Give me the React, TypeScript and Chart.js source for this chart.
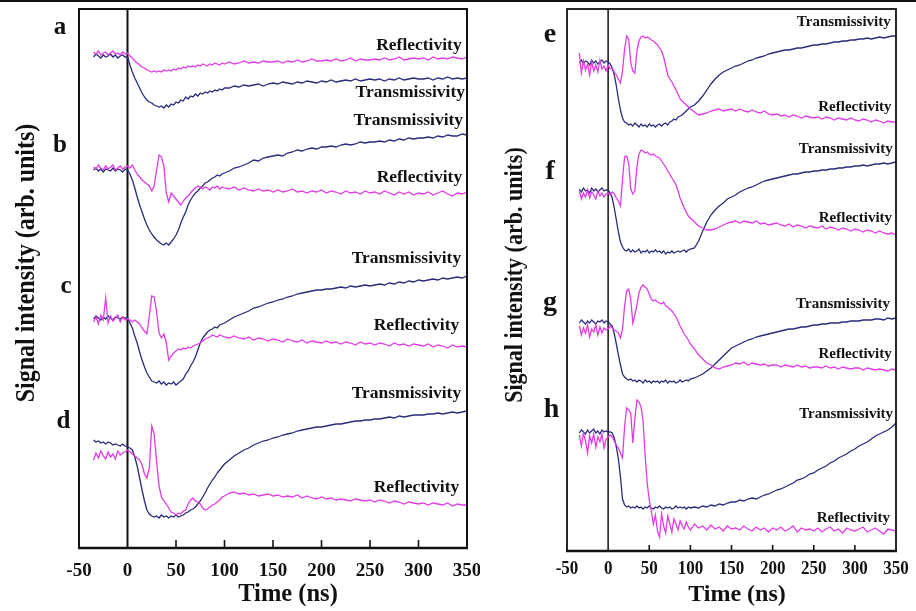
import React, { useEffect, useRef } from "react";
import { Chart, registerables } from "chart.js";
Chart.register(...registerables);

// Time axis (ns)
const T = [
  -35, -32.5, -30, -27.5, -25, -22.5, -20, -17.5, -15, -12.5, -10, -7.5, -5, -2.5,
  0, 2.5, 5, 7.5, 10, 12.5, 15, 17.5, 20, 22.5, 25, 27.5,
  30, 32.5, 35, 37.5, 40, 42.5, 45, 47.5, 50, 52.5, 55, 57.5,
  60, 62.5, 65, 67.5, 70, 72.5, 75, 77.5, 80, 82.5, 85, 87.5,
  90, 92.5, 95, 97.5, 100,
  105, 110, 115, 120, 125, 130, 135, 140, 145, 150,
  155, 160, 165, 170, 175, 180, 185, 190, 195, 200,
  205, 210, 215, 220, 225, 230, 235, 240, 245, 250,
  255, 260, 265, 270, 275, 280, 285, 290, 295, 300,
  305, 310, 315, 320, 325, 330, 335, 340, 345, 350,
];

const X_TICK_LABELS = [-50, 0, 50, 100, 150, 200, 250, 300, 350];
const X_INNER_TICKS = [50, 100, 150, 200, 250, 300];

// ---- Left panel (a-d), signal intensity, arb. units (offset traces) ----
const aR = [
  496, 494, 497, 493, 495, 496, 493, 495, 497, 494, 495, 493, 496, 494,
  495, 492, 490, 487, 485, 483, 481, 480, 478, 477, 476, 477,
  476, 477, 476, 478, 477, 478, 477, 479, 478, 480, 479, 481,
  480, 482, 481, 482, 481, 483, 482, 484, 483, 482, 484, 483,
  485, 484, 483, 485, 484,
  486, 484, 485, 487, 485, 486, 485, 487, 486, 486,
  487, 485, 487, 486, 488, 486, 487, 489, 487, 487,
  488, 487, 489, 487, 488, 490, 487, 489, 488, 488,
  489, 488, 490, 488, 489, 491, 488, 489, 490, 489,
  490, 488, 491, 489, 490, 489, 491, 490, 489, 491,
];
const aT = [
  491, 494, 492, 490, 493, 491, 492, 494, 491, 493, 490, 492, 493, 491,
  491, 483, 476, 470, 465, 460, 455, 451, 448, 446, 445, 443,
  442, 441, 442, 440, 443, 441, 444, 443, 446, 445, 448, 447,
  451, 449, 452, 451, 454, 452, 455, 454, 456, 455, 457, 456,
  458, 457, 459, 458, 460,
  460, 462, 461, 463, 462, 463, 464, 462, 464, 465,
  464, 466, 465, 464, 466, 465, 467, 466, 465, 467,
  466, 468, 466, 467, 468, 467, 469, 467, 468, 469,
  468, 469, 467, 469, 468, 470, 468, 469, 470, 469,
  469, 470, 468, 470, 469, 471, 469, 470, 469, 470,
];
const bR = [
  381, 379, 383, 380, 378, 382, 379, 381, 383, 378, 380, 382, 379, 381,
  382, 380, 383, 378, 374, 371, 368, 366, 364, 362, 357, 362,
  378, 393, 391, 382, 355, 346, 355, 352, 349, 346, 343, 347,
  350, 352, 355, 358, 360, 362, 361, 359, 361, 360, 358, 361,
  360, 362, 359, 361, 360,
  359, 361, 358, 360, 358, 357, 359, 357, 358, 356,
  358, 356, 357, 359, 356, 357, 355, 357, 356, 358,
  355, 357, 356, 354, 357, 355, 356, 354, 357, 355,
  356, 354, 357, 355, 353, 356, 354, 356, 353, 355,
  354, 356, 353, 355, 357, 354, 352, 355, 354, 356,
];
const bT = [
  378, 380, 377, 379, 376, 379, 378, 377, 380, 377, 379, 378, 376, 379,
  378, 374, 368, 360, 351, 343, 336, 329, 323, 318, 314, 311,
  308, 306, 304, 303, 305, 303, 306, 309, 313, 318, 325, 331,
  336, 343, 348, 352, 355, 357, 360, 362, 365, 366, 368, 370,
  371, 373, 372, 374, 375,
  377, 380, 381, 383, 385, 388, 387, 390, 391, 392,
  393, 392, 395, 396, 398, 397, 399, 400, 399, 401,
  401, 402, 401, 403, 404, 403, 404, 406, 405, 406,
  406, 407, 406, 408, 407, 409, 408, 410, 409, 410,
  410, 411, 410, 412, 411, 413, 412, 412, 414, 413,
];
const cR = [
  226, 231, 224, 233, 228, 250, 225, 232, 227, 230, 233, 226, 231, 228,
  229, 228, 226, 228, 226, 224, 220, 217, 214, 232, 252, 251,
  236, 215, 210, 214, 205, 188, 192, 195, 197, 199, 198, 200,
  199, 201, 200, 202, 203, 204, 205, 207, 209, 210, 211, 213,
  212, 211, 213, 212, 211,
  210, 212, 210, 209, 211, 208, 210, 209, 207, 209,
  208, 206, 209, 207, 206, 208, 205, 207, 206, 205,
  207, 205, 206, 204, 206, 205, 203, 206, 204, 205,
  203, 205, 204, 202, 205, 203, 204, 202, 204, 203,
  202, 204, 201, 203, 202, 200, 203, 201, 202, 201,
];
const cT = [
  229, 232, 230, 228, 231, 229, 232, 230, 228, 231, 230, 229, 231, 230,
  230, 225, 220, 212, 205, 196, 188, 181, 175, 171, 167, 166,
  165, 167, 164, 166, 163, 165, 164, 166, 163, 165, 167, 169,
  174, 177, 182, 186, 191, 198, 205, 210, 213, 216, 218, 219,
  221, 220, 223, 224, 225,
  228, 231, 233, 235, 237, 240, 241, 243, 245, 246,
  248, 249, 251, 252, 254, 255, 256, 257, 258, 258,
  259, 259, 260, 261, 260, 262, 261, 262, 263, 262,
  263, 264, 263, 265, 264, 266, 265, 267, 266, 268,
  267, 268, 269, 268, 270, 269, 270, 271, 270, 272,
];
const dR = [
  88, 95, 90, 97, 92, 89, 96, 91, 94, 89, 97, 93, 95, 96,
  98, 96, 94, 92, 90, 88, 83, 74, 70, 80, 122, 114,
  86, 62, 51, 47, 44, 40, 36, 35, 33, 35, 34, 37,
  38, 44, 48, 50, 47, 46, 44, 40, 38, 39, 41, 43,
  44, 46, 48, 51, 52,
  55, 56, 54, 55, 53, 54, 52, 53, 54, 52,
  53, 51, 52, 51, 53, 50, 52, 50, 49, 51,
  49, 50, 48, 49, 48, 47, 49, 48, 47, 48,
  46, 48, 47, 45, 47, 46, 44, 46, 45, 44,
  45, 43, 45, 44, 43, 45, 42, 44, 43, 43,
];
const dT = [
  108, 106, 107, 105, 106, 104, 106, 105, 103, 104, 103, 102, 104, 102,
  101, 100, 98, 91, 82, 70, 58, 47, 38, 34, 32, 31,
  32, 30, 33, 31, 32, 30, 32, 31, 33, 31, 32, 33,
  35, 36, 38, 39, 41, 44, 47, 51, 55, 60, 64, 68,
  71, 75, 78, 81, 84,
  88, 92, 95, 98, 100, 103, 105, 107, 108, 110,
  111, 113, 114, 115, 117, 118, 119, 120, 121, 121,
  122, 123, 124, 124, 125, 126, 127, 127, 128, 128,
  129, 129, 130, 131, 130, 132, 131, 132, 133, 133,
  133, 134, 134, 135, 134, 135, 136, 135, 136, 137,
];

// ---- Right panel (e-h) ----
const eR = [
  498, 478, 490, 481, 487, 476, 489, 480, 486, 479, 491, 482, 485, 480,
  486, 482, 483, 479, 476, 472, 468, 480, 502, 515, 512, 488,
  480, 478, 500, 510, 514, 515, 513, 514, 513, 511, 510, 508,
  506, 503, 500, 494, 485, 476, 472, 469, 465, 461, 457, 452,
  450, 448, 446, 444, 442,
  439, 436, 437, 438, 440, 441, 442, 440, 441, 442,
  440, 442, 440, 439, 441, 439, 438, 440, 437, 436,
  437, 435, 436, 434, 436, 435, 433, 435, 434, 433,
  434, 432, 434, 433, 431, 433, 432, 431, 433, 431,
  430, 432, 431, 429, 431, 430, 428, 430, 429, 429,
];
const eT = [
  488, 491, 487, 490, 489, 486, 491, 488, 490, 487, 489, 491, 488, 490,
  489, 487, 483, 476, 465, 452, 441, 433, 429, 428, 426, 427,
  425, 428, 426, 424, 427, 425, 426, 424, 427, 425, 426, 424,
  426, 427, 425, 427, 428, 426, 429, 430, 432, 431, 434, 435,
  436, 438, 440, 442, 444,
  446, 450, 455, 461, 467, 472, 476, 479, 481, 483,
  485, 486, 488, 490, 491, 493, 494, 495, 497, 498,
  499, 500, 501, 501, 502, 503, 503, 504, 505, 506,
  506, 507, 507, 508, 509, 509, 510, 510, 511, 511,
  512, 512, 513, 512, 513, 514, 513, 514, 515, 515,
];
const fR = [
  360, 352, 358, 354, 361, 353, 359, 356, 352, 360, 355, 358, 354, 357,
  358, 356, 359, 357, 353, 350, 345, 372, 394, 395, 388, 362,
  357, 360, 384, 397, 401, 400, 398, 399, 397, 396, 397, 395,
  394, 393, 390, 387, 384, 380, 377, 373, 370, 366, 360, 353,
  348, 343, 339, 335, 333,
  329, 325, 323, 321, 321, 322, 324, 326, 328, 329,
  330, 328, 330, 329, 328, 330, 327, 328, 326, 327,
  328, 326, 325, 327, 324, 326, 325, 323, 325, 324,
  323, 325, 322, 324, 323, 321, 323, 322, 320, 322,
  321, 319, 321, 320, 318, 320, 318, 317, 318, 316,
];
const fT = [
  362, 359, 363, 360, 361, 358, 363, 360, 362, 359, 361, 363, 360, 361,
  361, 358, 353, 343, 331, 319, 309, 304, 301, 300, 302, 299,
  301, 299, 300, 302, 298, 300, 299, 301, 298, 300, 299, 301,
  299, 300, 298, 300, 297, 299, 298, 300, 298, 299, 300, 299,
  300, 301, 299, 301, 302,
  303, 310, 320, 329, 336, 341, 345, 348, 352, 354,
  356, 359, 361, 363, 364, 366, 368, 370, 371, 372,
  373, 374, 375, 376, 377, 377, 378, 379, 379, 380,
  380, 381, 381, 382, 382, 383, 383, 384, 384, 385,
  385, 386, 385, 386, 387, 387, 388, 387, 388, 389,
];
const gR = [
  225, 216, 223, 218, 226, 214, 222, 219, 226, 216, 224, 218, 223, 221,
  222, 225, 223, 221, 220, 218, 213, 222, 245, 260, 262, 252,
  228, 236, 246, 258, 264, 266, 264, 262, 257, 252, 250, 251,
  249, 248, 247, 249, 245, 244, 242, 240, 237, 234, 230, 225,
  221, 217, 214, 211, 207,
  202, 196, 192, 188, 186, 183, 182, 184, 185, 186,
  188, 187, 189, 186, 188, 187, 186, 187, 185, 186,
  186, 184, 186, 185, 184, 186, 184, 185, 183, 184,
  184, 183, 185, 183, 184, 182, 184, 183, 182, 183,
  183, 181, 183, 182, 181, 182, 181, 180, 182, 181,
];
const gT = [
  228, 231, 229, 227, 230, 228, 231, 229, 227, 230, 229, 231, 228, 230,
  229, 227, 225, 217, 207, 196, 186, 177, 174, 172, 171, 172,
  170, 171, 169, 171, 170, 168, 171, 169, 170, 168, 170, 169,
  170, 168, 170, 169, 171, 168, 170, 169, 170, 168, 169, 171,
  169, 170, 171, 170, 172,
  173, 175, 177, 180, 183, 187, 191, 195, 199, 203,
  205, 207, 209, 211, 212, 214, 215, 216, 217, 218,
  219, 220, 221, 222, 222, 223, 224, 224, 225, 226,
  226, 227, 227, 228, 228, 228, 229, 229, 230, 230,
  230, 231, 231, 231, 232, 232, 231, 233, 232, 233,
];
const hR = [
  116, 105, 118, 110, 98, 115, 108, 117, 104, 114, 109, 117, 103, 112,
  114, 116, 114, 110, 106, 103, 98, 93, 124, 143, 141, 138,
  108, 132, 151, 149, 144, 130, 95, 68, 51, 40, 27, 36,
  20, 14, 37, 25, 18, 35, 27, 19, 32, 27, 21, 30,
  25, 22, 29, 24, 21,
  27, 23, 25, 21, 26, 22, 24, 20, 25, 22,
  23, 21, 25, 22, 20, 24, 21, 23, 19, 23,
  21, 24, 20, 22, 25, 19, 23, 21, 22, 20,
  23, 19, 22, 24, 20, 22, 18, 23, 21, 20,
  22, 24, 19, 21, 23, 20, 17, 22, 21, 20,
];
const hT = [
  118, 121, 119, 117, 121, 118, 120, 122, 118, 120, 117, 121, 119, 120,
  119, 119, 118, 113, 104, 92, 74, 52, 46, 44, 45, 43,
  44, 43, 45, 43, 44, 42, 44, 43, 45, 43, 42, 44,
  43, 45, 43, 42, 44, 43, 44, 42, 43, 45, 43, 44,
  43, 44, 42, 44, 43,
  44, 43, 45, 44, 46, 45, 47, 46, 48, 49,
  49, 51, 50, 52, 53, 52, 54, 56, 57, 59,
  61, 62, 64, 66, 68, 71, 72, 74, 77, 78,
  81, 83, 85, 88, 90, 93, 95, 97, 100, 102,
  105, 107, 109, 112, 115, 117, 119, 121, 124, 128,
];

const MAGENTA = "#e03ce6";
const NAVY = "#2a2b7c";
const FONT = '"Liberation Serif", "Times New Roman", serif';

type TextItem = { t: string; x: number; y: number };

type PanelCfg = {
  canvasLeft: number;
  canvasWidth: number;
  padding: { left: number; right: number; top: number; bottom: number };
  yMax: number;
  reflect: number[][];
  transmit: number[][];
  tickFont: number;
  tickSy: number;
  tickBaseline: number;
  tickLen: number;
  title: { x: number; y: number; size: number };
  yTitle: { x: number; y: number; size: number; sy: number };
  letterSize: number;
  labelSize: number;
  letters: TextItem[];
  labels: TextItem[];
  frameW: number;
  zeroW: number;
};

function drawText(
  ctx: CanvasRenderingContext2D,
  text: string,
  x: number,
  y: number,
  size: number,
  align: CanvasTextAlign,
  sy = 1
) {
  ctx.save();
  ctx.translate(x, y);
  ctx.scale(1, sy);
  ctx.font = `bold ${size}px ${FONT}`;
  ctx.textAlign = align;
  ctx.textBaseline = "alphabetic";
  ctx.fillStyle = "#111";
  ctx.fillText(text, 0, 0);
  ctx.restore();
}

function makeDecor(cfg: PanelCfg) {
  return {
    id: "panelDecor",
    beforeDatasetsDraw(chart: any) {
      const { ctx, chartArea: a, scales } = chart;
      const x0 = scales.x.getPixelForValue(0);
      ctx.save();
      ctx.strokeStyle = "#111";
      ctx.lineWidth = cfg.zeroW;
      ctx.beginPath();
      ctx.moveTo(x0, a.top);
      ctx.lineTo(x0, a.bottom);
      ctx.stroke();
      ctx.restore();
    },
    afterDraw(chart: any) {
      const { ctx, chartArea: a, scales } = chart;
      const sx = scales.x;
      const sy = scales.y;
      ctx.save();
      // frame
      ctx.strokeStyle = "#111";
      ctx.lineWidth = cfg.frameW;
      ctx.strokeRect(a.left, a.top, a.right - a.left, a.bottom - a.top);
      ctx.lineWidth = cfg.frameW + 0.6;
      ctx.beginPath();
      ctx.moveTo(a.left - 1, a.bottom);
      ctx.lineTo(a.right + 1, a.bottom);
      ctx.stroke();
      // inner ticks
      ctx.lineWidth = 1.6;
      X_INNER_TICKS.forEach((v) => {
        const px = sx.getPixelForValue(v);
        ctx.beginPath();
        ctx.moveTo(px, a.bottom);
        ctx.lineTo(px, a.bottom - cfg.tickLen);
        ctx.stroke();
      });
      ctx.restore();
      // tick labels
      X_TICK_LABELS.forEach((v) => {
        drawText(ctx, String(v), sx.getPixelForValue(v), cfg.tickBaseline, cfg.tickFont, "center", cfg.tickSy);
      });
      // axis titles
      drawText(ctx, "Time (ns)", cfg.title.x, cfg.title.y, cfg.title.size, "center");
      ctx.save();
      ctx.translate(cfg.yTitle.x, cfg.yTitle.y);
      ctx.rotate(-Math.PI / 2);
      ctx.scale(1, cfg.yTitle.sy);
      ctx.font = `bold ${cfg.yTitle.size}px ${FONT}`;
      ctx.textAlign = "center";
      ctx.textBaseline = "alphabetic";
      ctx.fillStyle = "#111";
      ctx.fillText("Signal intensity (arb. units)", 0, 0);
      ctx.restore();
      // panel letters
      cfg.letters.forEach((l) => {
        drawText(ctx, l.t, sx.getPixelForValue(l.x), sy.getPixelForValue(l.y), cfg.letterSize, "center");
      });
      // trace labels
      cfg.labels.forEach((l) => {
        drawText(ctx, l.t, sx.getPixelForValue(l.x), sy.getPixelForValue(l.y), cfg.labelSize, "right");
      });
    },
  };
}

const leftCfg: PanelCfg = {
  canvasLeft: 0,
  canvasWidth: 480,
  padding: { left: 79, right: 13, top: 9, bottom: 63 },
  yMax: 539,
  reflect: [aR, bR, cR, dR],
  transmit: [aT, bT, cT, dT],
  tickFont: 19,
  tickSy: 1,
  tickBaseline: 576,
  tickLen: 8,
  title: { x: 288, y: 601, size: 24.5 },
  yTitle: { x: 33.5, y: 263, size: 24, sy: 1.1 },
  letterSize: 25,
  labelSize: 17.5,
  letters: [
    { t: "a", x: -69.6, y: 514 },
    { t: "b", x: -69.6, y: 396 },
    { t: "c", x: -63.4, y: 255 },
    { t: "d", x: -66, y: 120 },
  ],
  labels: [
    { t: "Reflectivity", x: 344.5, y: 498 },
    { t: "Transmissivity", x: 348, y: 451 },
    { t: "Transmissivity", x: 346, y: 423 },
    { t: "Reflectivity", x: 345, y: 366 },
    { t: "Transmissivity", x: 344, y: 285 },
    { t: "Reflectivity", x: 342, y: 218 },
    { t: "Transmissivity", x: 344, y: 150 },
    { t: "Reflectivity", x: 342, y: 56 },
  ],
  frameW: 2,
  zeroW: 2,
};

const rightCfg: PanelCfg = {
  canvasLeft: 480,
  canvasWidth: 436,
  padding: { left: 87, right: 20, top: 9, bottom: 60 },
  yMax: 542,
  reflect: [eR, fR, gR, hR],
  transmit: [eT, fT, gT, hT],
  tickFont: 17,
  tickSy: 1.08,
  tickBaseline: 574,
  tickLen: 6,
  title: { x: 257, y: 601, size: 24 },
  yTitle: { x: 42, y: 275, size: 22, sy: 1.15 },
  letterSize: 28,
  labelSize: 15,
  letters: [
    { t: "e", x: -70.6, y: 509 },
    { t: "f", x: -70.6, y: 372 },
    { t: "g", x: -70.6, y: 241 },
    { t: "h", x: -68.8, y: 134 },
  ],
  labels: [
    { t: "Transmissivity", x: 343.6, y: 525 },
    { t: "Reflectivity", x: 344.6, y: 440 },
    { t: "Transmissivity", x: 346, y: 398.5 },
    { t: "Reflectivity", x: 345.2, y: 329.5 },
    { t: "Transmissivity", x: 342.7, y: 243 },
    { t: "Reflectivity", x: 344.8, y: 193 },
    { t: "Transmissivity", x: 346.4, y: 133 },
    { t: "Reflectivity", x: 342.7, y: 29 },
  ],
  frameW: 1.8,
  zeroW: 1.5,
};

function Panel({ cfg }: { cfg: PanelCfg }) {
  const ref = useRef<HTMLCanvasElement>(null);
  useEffect(() => {
    if (!ref.current) return;
    const toPts = (vals: number[]) => T.map((t, i) => ({ x: t, y: vals[i] }));
    const datasets = [
      ...cfg.reflect.map((v) => ({
        data: toPts(v),
        borderColor: MAGENTA,
        borderWidth: 1.3,
        pointRadius: 0,
        tension: 0,
        fill: false,
      })),
      ...cfg.transmit.map((v) => ({
        data: toPts(v),
        borderColor: NAVY,
        borderWidth: 1.3,
        pointRadius: 0,
        tension: 0,
        fill: false,
      })),
    ];
    const chart = new Chart(ref.current, {
      type: "line",
      data: { datasets },
      options: {
        responsive: false,
        animation: false,
        devicePixelRatio: 1,
        events: [],
        layout: { padding: cfg.padding },
        plugins: { legend: { display: false }, tooltip: { enabled: false } },
        scales: {
          x: { type: "linear", min: -50, max: 350, display: false },
          y: { type: "linear", min: 0, max: cfg.yMax, display: false },
        },
      },
      plugins: [makeDecor(cfg)],
    } as any);
    return () => chart.destroy();
  }, [cfg]);
  return (
    <canvas
      ref={ref}
      width={cfg.canvasWidth}
      height={611}
      style={{ position: "absolute", left: cfg.canvasLeft, top: 0, width: cfg.canvasWidth, height: 611 }}
    />
  );
}

export default function App() {
  return (
    <div
      style={{
        position: "fixed",
        left: 0,
        top: 0,
        width: 916,
        height: 611,
        background: "#fff",
        overflow: "hidden",
      }}
    >
      <div style={{ position: "absolute", left: 0, top: 0, width: 916, height: 2, background: "#111" }} />
      <Panel cfg={leftCfg} />
      <Panel cfg={rightCfg} />
    </div>
  );
}
